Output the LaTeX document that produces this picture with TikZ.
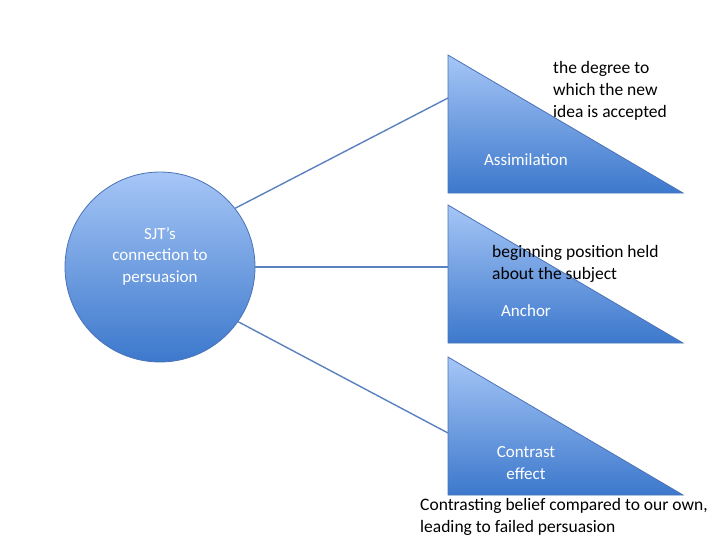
\documentclass[tikz,border=0pt]{standalone}
\usepackage{fontspec}
\setmainfont{Carlito}
\definecolor{topc}{HTML}{A6C6F6}
\definecolor{botc}{HTML}{3C78CC}
\definecolor{edgec}{HTML}{4A72B8}
\definecolor{linec}{HTML}{5A82C0}
\begin{document}
\begin{tikzpicture}[x=1pt,y=-1pt,
  shp/.style={draw=edgec, line width=0.8pt, top color=topc, bottom color=botc},
  lbl/.style={text=white, font=\fontsize{17}{21.5}\selectfont, align=center},
  note/.style={text=black, font=\fontsize{17.5}{22}\selectfont, align=left},
  con/.style={draw=linec, line width=1.4pt}]
\useasboundingbox (0,0) rectangle (728,546);
\fill[white] (0,0) rectangle (728,546);
\node[circle, shp, minimum size=190pt] (c) at (160,267) {};
\node[lbl] (ct) at (160,256) {SJT’s\\connection to\\persuasion};
\path[shp] (448,55) -- (448,193) -- (683,193) -- cycle;
\path[shp] (448,205) -- (448,343) -- (683,343) -- cycle;
\path[shp] (448,357) -- (448,495) -- (683,495) -- cycle;
\coordinate (t1) at (448,98);
\coordinate (t2) at (448,267);
\coordinate (t3) at (448,433);
\draw[con] (c.38) -- (t1);
\draw[con] (c.east) -- (t2);
\draw[con] (c.-35) -- (t3);
\node[lbl] (a1) at (526,160) {Assimilation};
\node[lbl] (a2) at (526,311) {Anchor};
\node[lbl] (a3) at (526,463) {Contrast\\effect};
\node[note, anchor=north west, inner sep=0pt] (n1) at (553,61) {the degree to\\which the new\\idea is accepted};
\node[note, anchor=north west, inner sep=0pt] (n2) at (492,245) {beginning position held\\about the subject};
\node[note, anchor=north west, inner sep=0pt] (n3) at (420,498) {Contrasting belief compared to our own,\\leading to failed persuasion};
\end{tikzpicture}
\end{document}
